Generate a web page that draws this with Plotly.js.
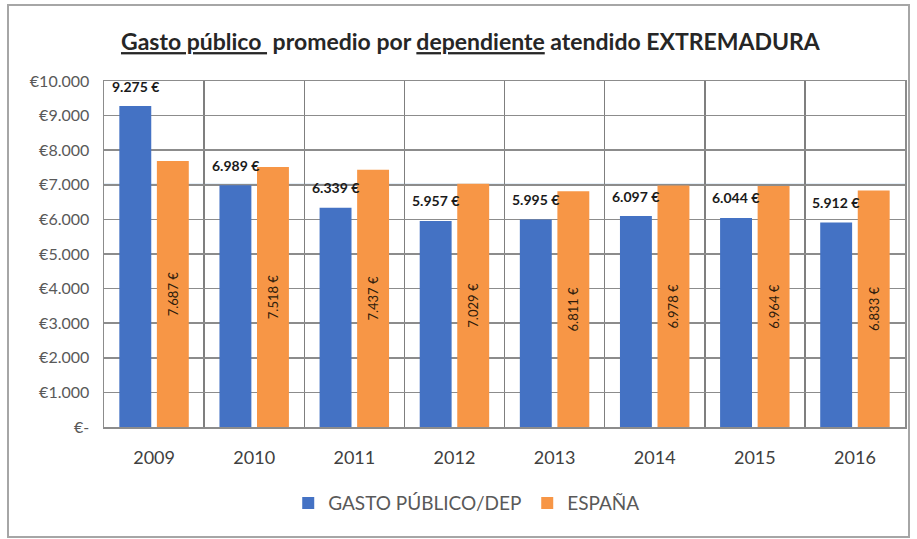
<!DOCTYPE html>
<html>
<head>
<meta charset="utf-8">
<script src="https://cdn.plot.ly/plotly-3.0.1.min.js"></script>
<style>
  html, body { margin: 0; padding: 0; background: #fff; }
  #wrap { position: relative; width: 917px; height: 539px; }
  #chart { position: absolute; left: 0; top: 0; width: 917px; height: 539px; }
  #frame { position: absolute; left: 7px; top: 4px; width: 899px; height: 530px;
           border: 2px solid #a6a6a6; pointer-events: none; }
</style>
</head>
<body>
<div id="wrap">
  <div id="chart"></div>
  <div id="frame"></div>
</div>
<script>
// ---- data ----
const years = ['2009', '2010', '2011', '2012', '2013', '2014', '2015', '2016'];
const gastoPublicoDep = [9275, 6989, 6339, 5957, 5995, 6097, 6044, 5912];
const espana = [7687, 7518, 7437, 7029, 6811, 6978, 6964, 6833];
const yTickVals = [0, 1000, 2000, 3000, 4000, 5000, 6000, 7000, 8000, 9000, 10000];
const yTickText = ['€-', '€1.000', '€2.000', '€3.000', '€4.000', '€5.000',
                   '€6.000', '€7.000', '€8.000', '€9.000', '€10.000'];
const seriesNames = ['GASTO PÚBLICO/DEP', 'ESPAÑA'];
const highlightLevel = 7000;

const FONT = 'Lato, "Open Sans", sans-serif';

function euro(v) {
  return String(v).replace(/\B(?=(\d{3})+(?!\d))/g, '.') + ' €';
}

const traces = [
  {
    type: 'bar',
    name: seriesNames[0],
    x: years,
    y: gastoPublicoDep,
    marker: { color: '#4472C4' },
    hoverinfo: 'x+y'
  },
  {
    type: 'bar',
    name: seriesNames[1],
    x: years,
    y: espana,
    marker: { color: '#F79646' },
    texttemplate: '%{y:,.0f} €',
    textposition: 'inside',
    insidetextanchor: 'middle',
    textangle: -90,
    constraintext: 'none',
    textfont: { family: FONT, size: 13, color: '#2e1c0c' },
    hoverinfo: 'x+y'
  }
];

// value labels of the blue series, placed above each blue bar
// (category axis: annotation x uses the category's serial index)
const blueLabels = years.map((yr, i) => ({
  x: i,
  y: gastoPublicoDep[i],
  xref: 'x',
  yref: 'y',
  text: '<b>' + euro(gastoPublicoDep[i]) + '</b>',
  showarrow: false,
  xshift: -19,
  yshift: 20,
  yanchor: 'middle',
  xanchor: 'center',
  font: { family: FONT, size: 14, color: '#1a1a1a' }
}));

const layout = {
  width: 917,
  height: 539,
  paper_bgcolor: '#ffffff',
  plot_bgcolor: '#ffffff',
  separators: ',.',
  margin: { l: 104, r: 12, t: 81, b: 112 },
  barmode: 'group',
  bargap: 0.25,
  bargroupgap: 0.15,
  title: {
    text: '<b><u>Gasto público </u> promedio por <u>dependiente</u> atendido EXTREMADURA</b>',
    font: { family: FONT, size: 23, color: '#262626' },
    x: 0.513,
    xanchor: 'center',
    y: 0.922,
    yanchor: 'middle'
  },
  xaxis: {
    type: 'category',
    range: [-0.5, years.length - 0.5],
    tickson: 'boundaries',
    showgrid: true,
    gridcolor: '#7f7f7f',
    gridwidth: 1.5,
    showline: true,
    linecolor: '#8c8c8c',
    linewidth: 1.5,
    mirror: true,
    ticks: '',
    ticklabelstandoff: 14,
    tickfont: { family: FONT, size: 18, color: '#404040' },
    zeroline: false
  },
  yaxis: {
    range: [0, 10000],
    tickvals: yTickVals,
    ticktext: yTickText,
    showgrid: true,
    gridcolor: '#8c8c8c',
    gridwidth: 1.5,
    showline: true,
    linecolor: '#8c8c8c',
    linewidth: 1.5,
    mirror: true,
    ticks: '',
    ticklabelstandoff: 10,
    tickfont: { family: FONT, size: 16, color: '#595959' },
    zeroline: false
  },
  shapes: [
    {
      type: 'line', xref: 'paper', x0: 0, x1: 1,
      yref: 'y', y0: highlightLevel, y1: highlightLevel,
      line: { color: '#9DC3E6', width: 2 },
      layer: 'below'
    }
  ],
  annotations: blueLabels,
  legend: {
    orientation: 'h',
    x: 0.23,
    xanchor: 'left',
    y: -0.22,
    yanchor: 'middle',
    font: { family: FONT, size: 19, color: '#595959' },
    entrywidth: 194,
    entrywidthmode: 'pixels',
    tracegroupgap: 0
  },
  showlegend: true
};

Plotly.newPlot('chart', traces, layout, { displayModeBar: false, staticPlot: true });
</script>
</body>
</html>
